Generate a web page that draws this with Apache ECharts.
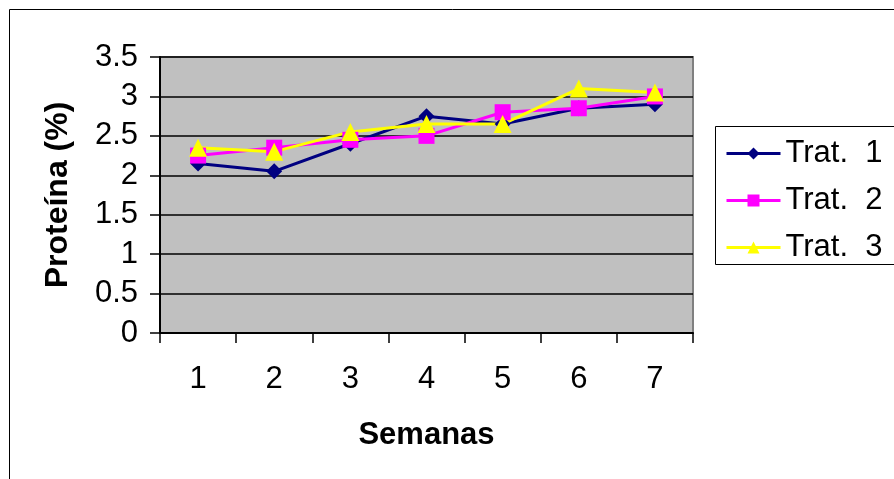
<!DOCTYPE html>
<html>
<head>
<meta charset="utf-8">
<script src="https://cdn.jsdelivr.net/npm/echarts@6/dist/echarts.min.js"></script>
<style>
  html, body { margin: 0; padding: 0; background: #fff; }
  #chart { width: 894px; height: 479px; }
</style>
</head>
<body>
<div id="chart"></div>
<script>
// Weekly protein content per treatment
const semanas = ['1', '2', '3', '4', '5', '6', '7'];
const trat1 = [2.15, 2.05, 2.4, 2.75, 2.65, 2.85, 2.9];
const trat2 = [2.25, 2.35, 2.45, 2.5, 2.8, 2.85, 3.0];
const trat3 = [2.35, 2.3, 2.55, 2.65, 2.65, 3.1, 3.05];
const seriesNames = ['Trat.  1', 'Trat.  2', 'Trat.  3'];

const FONT = 'Arial, "Liberation Sans", sans-serif';
const chart = echarts.init(document.getElementById('chart'), null, { renderer: 'canvas' });

function lineSeries(name, data, color, symbol, size) {
  return {
    name: name,
    type: 'line',
    data: data,
    symbol: symbol,
    symbolSize: size,
    lineStyle: { color: color, width: 3 },
    itemStyle: { color: color },
    emphasis: { disabled: true },
    animation: false,
    z: 3
  };
}

chart.setOption({
  animation: false,
  backgroundColor: '#ffffff',
  graphic: [
    { type: 'rect', shape: { x: 9.5, y: 9.5, width: 1000, height: 1000 },
      style: { fill: 'none', stroke: '#000', lineWidth: 1 }, silent: true, z: -10 },
    { type: 'rect', shape: { x: 715.5, y: 126.5, width: 300, height: 138 },
      style: { fill: '#fff', stroke: '#000', lineWidth: 1 }, silent: true, z: -5 }
  ],
  grid: {
    left: 160, top: 57, right: 201, bottom: 146,
    show: true, backgroundColor: '#c0c0c0', borderColor: '#808080', borderWidth: 2
  },
  legend: {
    orient: 'vertical',
    left: 720, top: 133,
    itemWidth: 54, itemHeight: 15, itemGap: 16,
    data: seriesNames,
    lineStyle: { width: 3 },
    textStyle: { fontFamily: FONT, fontSize: 31, color: '#000', lineHeight: 28 }
  },
  xAxis: {
    type: 'category',
    data: semanas,
    boundaryGap: true,
    name: 'Semanas',
    nameLocation: 'middle',
    nameGap: 87,
    nameTextStyle: { fontFamily: FONT, fontSize: 31, fontWeight: 'bold', color: '#000' },
    axisLine: { lineStyle: { color: '#000', width: 2 } },
    axisTick: { show: true, length: 10, alignWithLabel: false, lineStyle: { color: '#000', width: 1.5 } },
    axisLabel: { fontFamily: FONT, fontSize: 31, color: '#000', margin: 31 },
    splitLine: { show: false }
  },
  yAxis: {
    type: 'value',
    min: 0, max: 3.5, interval: 0.5,
    name: 'Proteína (%)',
    nameLocation: 'middle',
    nameGap: 86,
    nameRotate: 90,
    nameTextStyle: { fontFamily: FONT, fontSize: 32, fontWeight: 'bold', color: '#000' },
    axisLine: { show: true, lineStyle: { color: '#000', width: 2 } },
    axisTick: { show: true, length: 10, lineStyle: { color: '#000', width: 1.5 } },
    axisLabel: { fontFamily: FONT, fontSize: 31, color: '#000', margin: 22 },
    splitLine: { show: true, lineStyle: { color: '#000', width: 1.5 } }
  },
  series: [
    lineSeries(seriesNames[0], trat1, '#000080', 'diamond', 16),
    lineSeries(seriesNames[1], trat2, '#ff00ff', 'rect', 16),
    lineSeries(seriesNames[2], trat3, '#ffff00', 'triangle', 18)
  ]
});
</script>
</body>
</html>
